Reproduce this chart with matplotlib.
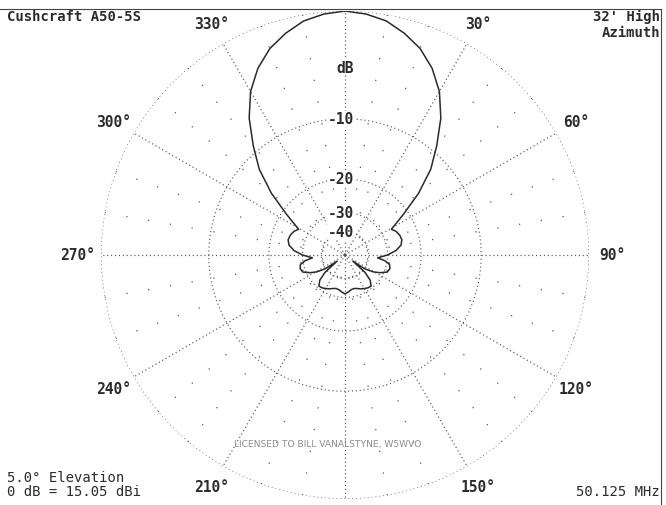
import matplotlib
matplotlib.use("Agg")
import matplotlib.pyplot as plt
import numpy as np
from matplotlib.lines import Line2D

plt.rcParams['lines.scale_dashes'] = False

# azimuth pattern, right half (deg from boresight, dB relative to max), mirrored for left half
angles = [0, 5, 10, 15, 20, 25, 30, 35, 40, 45, 50, 55, 58, 61, 65, 70, 75, 80, 85,
          90, 95, 98, 102, 107, 112, 117, 121, 125, 128, 131, 135, 140, 145, 150,
          155, 160, 165, 170, 175, 180]
gain_db = [0.0, -0.15, -0.45, -1.05, -1.8, -2.9, -4.4, -6.5, -9.2, -12.0, -16.0,
           -21.0, -23.8, -26.2, -25.2, -24.6, -24.4, -25.0, -26.8, -30.0, -34.5,
           -31.0, -28.8, -28.3, -28.8, -31.5, -34.5, -40.0, -55.0, -38.0, -33.0,
           -30.8, -31.0, -31.6, -32.2, -33.0, -33.5, -33.2, -32.3, -31.5]

ring_db = [0, -10, -20, -30, -40]
ring_labels = ["", "-10", "-20", "-30", "-40"]
spoke_angles = list(range(0, 360, 10))
label_angles = [30, 60, 90, 120, 150, 210, 240, 270, 300, 330]

# ARRL log-periodic scale: 0.89 per 2 dB
def to_r(db):
    return 0.89 ** (-np.asarray(db, dtype=float) / 2.0)

full_ang = angles + [360 - a for a in angles[-2::-1]]
full_db = gain_db + gain_db[-2::-1]

W, H = 666, 506
fig = plt.figure(figsize=(W / 100, H / 100), dpi=100)
cx, cy, R = 345, 256, 244
ax = fig.add_axes([(cx - R) / W, (H - cy - R) / H, 2 * R / W, 2 * R / H], projection='polar')
ax.set_theta_zero_location('N')
ax.set_theta_direction(-1)
ax.set_ylim(0, 1)
ax.set_axis_off()

grid_col = '#555555'
dense = (0, (0.8, 2.0))
sparse = (0, (0.9, 15.0))

th = np.linspace(0, 2 * np.pi, 721)
for db in ring_db:
    ax.plot(th, np.full_like(th, to_r(db)), color=grid_col, lw=0.85, linestyle=dense)

for a in spoke_angles:
    t = np.radians(a)
    ls = dense if a % 30 == 0 else sparse
    ax.plot([t, t], [0, 1], color=grid_col, lw=0.9, linestyle=ls)

# pattern
ax.plot(np.radians(full_ang), to_r(full_db), color='#2a2a2a', lw=1.1)

mono = 'DejaVu Sans Mono'
txt_col = '#2b2b2b'

for db, lab in zip(ring_db, ring_labels):
    if lab:
        ax.annotate(lab, xy=(0, to_r(db)), xytext=(-3, 0), textcoords='offset points',
                    ha='center', va='center', family=mono, fontsize=10.5,
                    fontweight='bold', color=txt_col,
                    bbox=dict(facecolor='white', edgecolor='none', pad=0.5))
ax.text(0, 0.77, "dB", ha='center', va='center', family=mono, fontsize=10.5,
        fontweight='bold', color=txt_col,
        bbox=dict(facecolor='white', edgecolor='none', pad=0.5))

for a in label_angles:
    ax.text(np.radians(a), 1.094, f"{a}\u00b0", ha='center', va='center',
            family=mono, fontsize=10.5, fontweight='bold', color=txt_col)

# corner annotations
fig.text(7 / W, 1 - 17 / H, "Cushcraft A50-5S", ha='left', va='center',
         family=mono, fontsize=10, fontweight='bold', color=txt_col)
fig.text(660 / W, 1 - 17 / H, "32' High", ha='right', va='center',
         family=mono, fontsize=10, fontweight='bold', color=txt_col)
fig.text(660 / W, 1 - 33 / H, "Azimuth", ha='right', va='center',
         family=mono, fontsize=10, fontweight='bold', color=txt_col)
fig.text(7 / W, 1 - 478 / H, "5.0\u00b0 Elevation", ha='left', va='center',
         family=mono, fontsize=10, color=txt_col)
fig.text(7 / W, 1 - 492 / H, "0 dB = 15.05 dBi", ha='left', va='center',
         family=mono, fontsize=10, color=txt_col)
fig.text(660 / W, 1 - 492 / H, "50.125 MHz", ha='right', va='center',
         family=mono, fontsize=10, color=txt_col)
fig.text(328 / W, 1 - 445 / H, "LICENSED TO BILL VANALSTYNE, W5WVO", ha='center',
         va='center', family='DejaVu Sans', fontsize=6.6, color='#8c8c8c')

# frame lines along top and right edges
fig.add_artist(Line2D([0, 661 / W], [1 - 10 / H, 1 - 10 / H], color='#444444', lw=0.8))
fig.add_artist(Line2D([661 / W, 661 / W], [0, 1 - 10 / H], color='#444444', lw=0.8))

fig.savefig('out.png', dpi=100)
